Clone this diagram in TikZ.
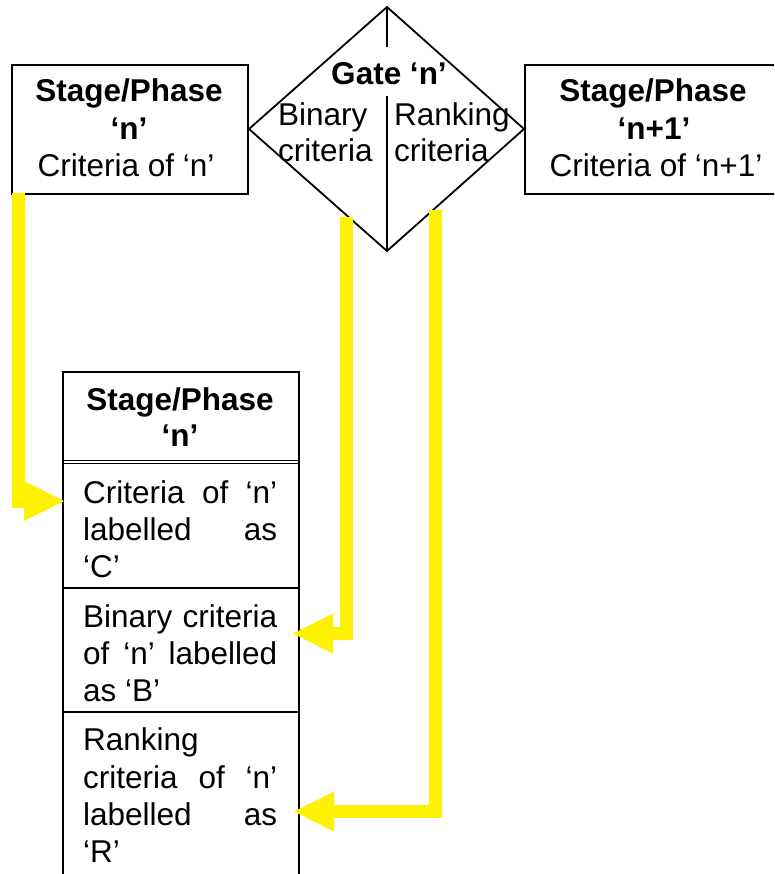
\documentclass[tikz,border=0pt]{standalone}
\usepackage{fontspec}
\setmainfont{Liberation Sans}
\usetikzlibrary{arrows.meta}
\begin{document}
\begin{tikzpicture}[x=1pt,y=-1pt,
  box/.style={draw,line width=1.8pt,inner sep=0pt,anchor=north west},
  edge/.style={line width=1.8pt},
  txt/.style={anchor=base,inner sep=0pt,font=\fontsize{31.5}{37}\selectfont},
  txtb/.style={anchor=base,inner sep=0pt,font=\fontsize{31.5}{37}\selectfont\bfseries},
  ltxt/.style={anchor=base west,inner sep=0pt,font=\fontsize{31.5}{37}\selectfont},
  yarrow/.style={draw=yellow,line width=13pt,line join=miter,
    -{Triangle[length=40pt,width=40pt,line width=0pt]}}
]
\useasboundingbox (0,0) rectangle (774,874);
\clip (0,0) rectangle (774,874);

% boxes
\node[box,minimum width=236pt,minimum height=129pt] (L) at (11,64) {};
\node[box,minimum width=270pt,minimum height=129pt] (R) at (524,64) {};
\node[box,minimum width=236pt,minimum height=540pt] (B) at (62,371) {};

% diamond
\coordinate (DW) at (249,129);
\coordinate (DN) at (387,7);
\coordinate (DE) at (524,129);
\coordinate (DS) at (387,251);
\coordinate (DM1) at (387,47);
\coordinate (DM2) at (387,96);
\draw[edge,line join=miter] (DW) -- (DN) -- (DE) -- (DS) -- cycle;
\draw[edge] (DN) -- (DM1);
\draw[edge] (DM2) -- (DS);

% dividers in bottom box
\draw[edge,line width=1.5pt] (62,460.5) -- (298,460.5);
\draw[edge,line width=1.5pt] (62,463.5) -- (298,463.5);
\draw[edge] (62,588) -- (298,588);
\draw[edge] (62,712) -- (298,712);

% texts: left box
\node[txtb] (l1) at (129,102) {Stage/Phase};
\node[txtb] (l2) at (129,140) {‘n’};
\node[txt]  (l3) at (126,177) {Criteria of ‘n’};

% gate
\node[txtb] (g1) at (389,85) {Gate ‘n’};
\node[ltxt] (g2) at (278,126) {Binary};
\node[ltxt] (g3) at (278,162) {criteria};
\node[ltxt] (g4) at (394,126) {Ranking};
\node[ltxt] (g5) at (394,162) {criteria};

% right box
\node[txtb] (r1) at (653,102) {Stage/Phase};
\node[txtb] (r2) at (654,140) {‘n+1’};
\node[txt]  (r3) at (656,177) {Criteria of ‘n+1’};

% bottom box
\node[txtb] (b1) at (180,410) {Stage/Phase};
\node[txtb] (b2) at (180,446) {‘n’};
\node[ltxt] (c1) at (83,503) {\hbox to 194pt{Criteria\hfill of\hfill ‘n’}};
\node[ltxt] (c2) at (83,540) {\hbox to 194pt{labelled\hfill as}};
\node[ltxt] (c3) at (83,577) {‘C’};
\node[ltxt] (c4) at (83,627) {\hbox to 194pt{Binary\hfill criteria}};
\node[ltxt] (c5) at (83,664) {\hbox to 194pt{of\hfill ‘n’\hfill labelled}};
\node[ltxt] (c6) at (83,701) {as ‘B’};
\node[ltxt] (c7) at (83,750) {Ranking};
\node[ltxt] (c8) at (83,788) {\hbox to 194pt{criteria\hfill of\hfill ‘n’}};
\node[ltxt] (c9) at (83,825) {\hbox to 194pt{labelled\hfill as}};
\node[ltxt] (c10) at (83,862) {‘R’};

% yellow arrows
\coordinate (s1) at (18.5,193);
\coordinate (t1) at (64,501);
\coordinate (s2) at (346,217);
\coordinate (t2) at (293,633.5);
\coordinate (s3) at (435,210);
\coordinate (t3) at (294,811.5);
\draw[yarrow] (s1) |- (t1);
\draw[yarrow] (s2) |- (t2);
\draw[yarrow] (s3) |- (t3);
\end{tikzpicture}
\end{document}
